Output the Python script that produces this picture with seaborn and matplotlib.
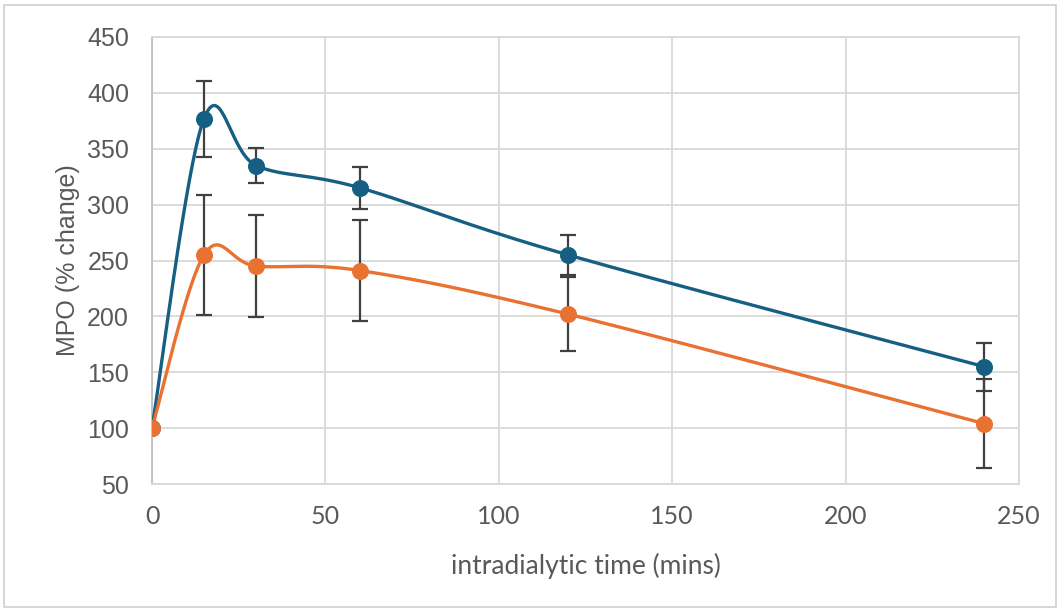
import numpy as np
import matplotlib
matplotlib.use("Agg")
import matplotlib.pyplot as plt
import seaborn as sns
from matplotlib.patches import Rectangle

# data
time_mins = [0, 15, 30, 60, 120, 240]
mpo_blue = [100, 377, 335, 315, 255, 155]
err_blue = [0, 34, 16, 18.5, 18, 21.5]
mpo_orange = [100, 255, 245, 241, 202, 104]
err_orange = [0, 54, 45.5, 45, 33, 40]

x_ticks = [0, 50, 100, 150, 200, 250]
y_ticks = [50, 100, 150, 200, 250, 300, 350, 400, 450]

BLUE = "#156082"
ORANGE = "#E97132"
GREY_TXT = "#595959"
GRID = "#d9d9d9"


def excel_smooth(xs, ys, sx, sy, n=60):
    # catmull-rom style bezier like Excel's "smoothed line", done in pixel space
    p = np.column_stack([np.asarray(xs, float) * sx, np.asarray(ys, float) * sy])
    out = []
    for i in range(len(p) - 1):
        p_prev = p[i - 1] if i > 0 else p[i]
        p_next = p[i + 2] if i + 2 < len(p) else p[i + 1]
        c1 = p[i] + (p[i + 1] - p_prev) / 6
        c2 = p[i + 1] - (p_next - p[i]) / 6
        t = np.linspace(0, 1, n)[:, None]
        seg = ((1 - t) ** 3) * p[i] + 3 * ((1 - t) ** 2) * t * c1 + 3 * (1 - t) * t ** 2 * c2 + t ** 3 * p[i + 1]
        out.append(seg if i == 0 else seg[1:])
    out = np.vstack(out)
    return out[:, 0] / sx, out[:, 1] / sy


sns.set_theme(style="white")
plt.rcParams["font.family"] = ["Lato", "DejaVu Sans"]

fig = plt.figure(figsize=(10.61, 6.13), dpi=100)
fig.subplots_adjust(left=152 / 1061, right=1019 / 1061, bottom=1 - 484 / 613, top=1 - 37 / 613)
ax = fig.add_subplot(111)

# outer chart border
fig.patches.append(Rectangle((4 / 1061, 6 / 613), 1052 / 1061, 602 / 613, transform=fig.transFigure,
                             fill=False, edgecolor="#d0d0d0", linewidth=1.2))

sx = 868 / 250
sy = 447 / 400
for yv, ev, col in [(mpo_blue, err_blue, BLUE), (mpo_orange, err_orange, ORANGE)]:
    ax.errorbar(time_mins[1:], yv[1:], yerr=ev[1:], fmt="none", ecolor="#404040",
                elinewidth=1.6, capsize=5.5, capthick=1.6, zorder=2)
    xs, ys = excel_smooth(time_mins, yv, sx, sy)
    sns.lineplot(x=xs, y=ys, ax=ax, sort=False, estimator=None, color=col, linewidth=2.4, zorder=3)
    sns.scatterplot(x=time_mins, y=yv, ax=ax, color=col, s=150, edgecolor=col, linewidth=0, zorder=4)

ax.set_xlim(0, 250)
ax.set_ylim(50, 450)
ax.set_xticks(x_ticks)
ax.set_yticks(y_ticks)
ax.grid(True, color=GRID, linewidth=1.3)
ax.set_axisbelow(True)
for s in ax.spines.values():
    s.set_color(GRID)
    s.set_linewidth(1.3)
ax.spines["left"].set_color("#bfbfbf")

ax.tick_params(axis="both", length=0, colors=GREY_TXT)
ax.tick_params(axis="x", pad=15, labelsize=18)
ax.tick_params(axis="y", pad=16.5, labelsize=18)
for lab in ax.get_yticklabels():
    lab.set_family("Liberation Sans")

ax.set_xlabel("intradialytic time (mins)", fontsize=19, color=GREY_TXT, labelpad=18)
ax.set_ylabel("MPO (% change)", fontsize=18, color=GREY_TXT, labelpad=5, family="Liberation Sans")

fig.savefig("out.png", dpi=100)
plt.close(fig)
